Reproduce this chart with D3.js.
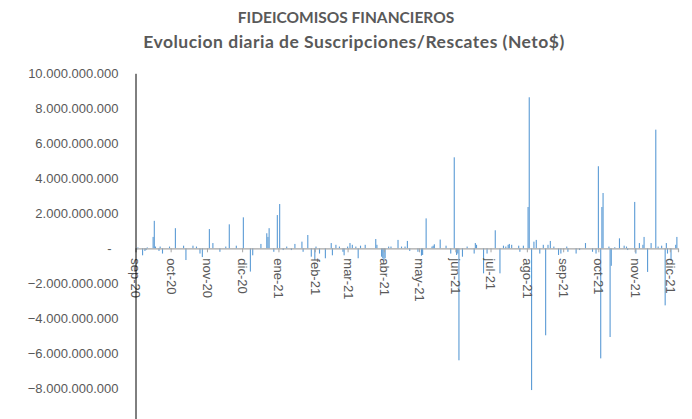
<!DOCTYPE html>
<html>
<head>
<meta charset="utf-8">
<script src="https://cdn.jsdelivr.net/npm/d3@7"></script>
<style>
  body { margin: 0; background: #fff; }
  svg text { font-family: "Liberation Sans", Arial, sans-serif; }
  .title { font-family: Lato, "Open Sans", sans-serif; font-weight: bold; fill: #595959; }
  .tick text { fill: #595959; font-size: 13px; }
</style>
</head>
<body>
<svg id="chart" width="692" height="419"></svg>
<script>
// ===================================================================
// FIDEICOMISOS FINANCIEROS — daily net subscriptions/redemptions
// ===================================================================
const TITLE = 'FIDEICOMISOS FINANCIEROS';
const SUBTITLE = 'Evolucion diaria de Suscripciones/Rescates (Neto$)';

// days with a visible movement
const fechas = [
  '2020-09-02','2020-09-03','2020-09-07','2020-09-09','2020-09-10','2020-09-11','2020-09-16','2020-09-17',
  '2020-09-18','2020-09-21','2020-09-22','2020-09-24','2020-09-30','2020-10-05','2020-10-12','2020-10-14',
  '2020-10-20','2020-10-23','2020-10-26','2020-10-28','2020-11-03','2020-11-06','2020-11-12','2020-11-17',
  '2020-11-20','2020-11-26','2020-12-02','2020-12-08','2020-12-10','2020-12-17','2020-12-22','2020-12-23',
  '2020-12-24','2020-12-28','2020-12-31','2021-01-02','2021-01-05','2021-01-08','2021-01-12','2021-01-15',
  '2021-01-21','2021-01-22','2021-01-26','2021-01-29','2021-02-01','2021-02-02','2021-02-05','2021-02-10',
  '2021-02-15','2021-02-16','2021-02-19','2021-02-22','2021-02-25','2021-02-26','2021-03-01','2021-03-03',
  '2021-03-05','2021-03-08','2021-03-10','2021-03-12','2021-03-16','2021-03-25','2021-03-26','2021-03-30',
  '2021-03-31','2021-04-01','2021-04-02','2021-04-05','2021-04-07','2021-04-13','2021-04-16','2021-04-19',
  '2021-04-21','2021-04-23','2021-04-30','2021-05-03','2021-05-04','2021-05-07','2021-05-12','2021-05-13',
  '2021-05-14','2021-05-19','2021-05-24','2021-05-28','2021-05-31','2021-06-02','2021-06-03','2021-06-04',
  '2021-06-07','2021-06-11','2021-06-17','2021-06-18','2021-06-19','2021-06-25','2021-06-28','2021-07-05',
  '2021-07-09','2021-07-12','2021-07-14','2021-07-16','2021-07-17','2021-07-19','2021-07-25','2021-07-26',
  '2021-07-29','2021-08-02','2021-08-03','2021-08-05','2021-08-07','2021-08-09','2021-08-12','2021-08-15',
  '2021-08-17','2021-08-19','2021-08-21','2021-08-24','2021-08-28','2021-08-30','2021-09-04','2021-09-05',
  '2021-09-12','2021-09-15','2021-09-20','2021-09-26','2021-09-29','2021-10-01','2021-10-03','2021-10-04',
  '2021-10-05','2021-10-10','2021-10-11','2021-10-12','2021-10-15','2021-10-19','2021-10-23','2021-10-25',
  '2021-10-26','2021-11-01','2021-11-02','2021-11-05','2021-11-08','2021-11-09','2021-11-12','2021-11-15',
  '2021-11-19','2021-11-21','2021-11-24','2021-11-27','2021-11-28','2021-11-29','2021-12-02','2021-12-06',
  '2021-12-07'
];

// net amount, millions of $
const netoMillones = [
  -80, 50, -400, -150, -100, 50, 650, 1570,
  100, -150, 100, -300, 100, 1150, 150, -670,
  150, 100, -300, -500, 1100, 300, -200, 100,
  1370, 150, 1770, -1330, -400, 250, 860, 650,
  1150, -200, 1900, 2530, -100, 100, -100, 250,
  380, -200, 760, -480, -670, 100, -300, -570,
  300, -400, 200, 100, -200, -400, 100, 300,
  200, 100, -570, 150, 200, 530, 200, -480,
  -570, -760, -570, 100, 100, 480, 100, 100,
  420, -150, -200, -420, -380, 1710, 100, 150,
  230, 500, 150, -300, 5200, -380, -300, -6400,
  -480, 100, -300, 300, 200, -1430, -300, 1030,
  -1430, 150, 100, 200, 250, 200, 150, -200,
  150, 2360, 8630, -8100, 380, 480, -300, 200,
  -4970, 200, 420, 100, -380, -300, 100, -200,
  -300, -100, 300, -200, -300, 4690, -6290, 2360,
  3160, 100, -5070, -1000, 60, 570, 150, 100,
  -100, 2650, -300, 300, 200, 650, -1350, 300,
  6780, 100, 150, -3260, 300, -300, -700, 200,
  650
];

const MESES = ['ene','feb','mar','abr','may','jun','jul','ago','sep','oct','nov','dic'];
const yTicks = [-10e9, -8e9, -6e9, -4e9, -2e9, 0, 2e9, 4e9, 6e9, 8e9, 10e9];
const xStart = '2020-09-01', xEnd = '2021-12-08';

const parse = d3.timeParse('%Y-%m-%d');
const data = fechas.map((f, i) => ({ date: parse(f), value: netoMillones[i] * 1e6 }));

const svg = d3.select('#chart');

// titles
svg.append('text').attr('class', 'title')
  .attr('x', 346).attr('y', 23).attr('text-anchor', 'middle')
  .style('font-size', '15.5px').text(TITLE);
svg.append('text').attr('class', 'title')
  .attr('x', 354).attr('y', 48).attr('text-anchor', 'middle')
  .style('font-size', '17.5px').style('letter-spacing', '0.5px').text(SUBTITLE);

const x = d3.scaleTime()
  .domain([parse(xStart), parse(xEnd)])
  .range([135.5, 678]);
const y = d3.scaleLinear()
  .domain([-10e9, 10e9])
  .range([423.3, 73.3]);

const es = d3.formatLocale({ decimal: ',', thousands: '.', grouping: [3], currency: ['$', ''] });
const fmt = es.format(',.0f');

// bars
svg.append('g').selectAll('rect')
  .data(data)
  .join('rect')
  .attr('x', d => x(d.date) - 0.5)
  .attr('width', 1.1)
  .attr('y', d => y(Math.max(0, d.value)))
  .attr('height', d => Math.abs(y(d.value) - y(0)))
  .attr('fill', '#5b9bd5');

// x axis on the zero line
const months = d3.timeMonth.range(parse(xStart), parse(xEnd));
const xAxis = d3.axisBottom(x)
  .tickValues(months)
  .tickSize(4)
  .tickFormat(d => MESES[d.getMonth()] + '-' + String(d.getFullYear()).slice(2));
const gx = svg.append('g')
  .attr('transform', `translate(0,${y(0)})`)
  .call(xAxis);
gx.select('.domain').attr('stroke', '#a6a6a6').attr('stroke-width', 1.2);
gx.selectAll('.tick line').attr('stroke', '#a6a6a6');
gx.selectAll('.tick text')
  .attr('transform', 'rotate(90)')
  .attr('x', 10).attr('y', 0).attr('dy', '0.35em')
  .attr('text-anchor', 'start');

// y axis
const yAxis = d3.axisLeft(y)
  .tickValues(yTicks)
  .tickSize(0)
  .tickPadding(17)
  .tickFormat(d => d === 0 ? '-' : fmt(d));
const gy = svg.append('g')
  .attr('transform', 'translate(135.5,0)')
  .call(yAxis);
gy.select('.domain').attr('stroke', '#000').attr('stroke-width', 1);
gy.selectAll('.tick text').filter(d => d === 0).attr('dx', -7);
</script>
</body>
</html>
